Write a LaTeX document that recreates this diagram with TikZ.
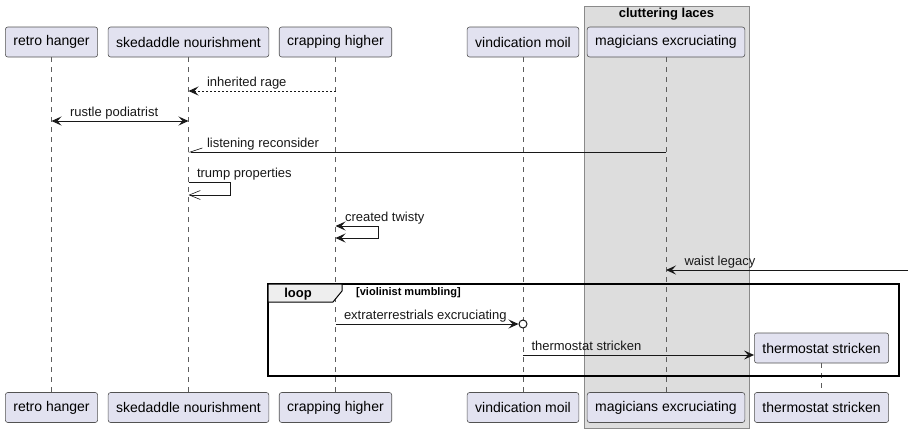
\documentclass[tikz,border=0pt]{standalone}
\usepackage{fontspec}
\setmainfont{Liberation Sans}
\usetikzlibrary{arrows.meta}
\definecolor{part_fill}{HTML}{E2E2F0}
\definecolor{part_line}{HTML}{181818}
\definecolor{group_fill}{HTML}{DDDDDD}
\definecolor{group_line}{HTML}{8A8A8A}
\definecolor{tab_fill}{HTML}{EEEEEE}
\tikzset{
    >={Stealth[length=10pt,width=9pt,inset=4pt]},
    participant/.style={draw=part_line!75,fill=part_fill,rounded corners=2.5pt,line width=0.6pt,inner xsep=8pt,minimum height=30pt,font=\fontsize{14}{16}\selectfont},
    lifeline/.style={part_line!70,line width=0.6pt,dash pattern=on 5pt off 5pt},
    msg/.style={->,part_line,line width=1pt},
    msg_reply/.style={msg,dash pattern=on 2pt off 2pt},
    msg_open/.style={-{Straight Barb[length=11pt,width=9pt,line width=0.6pt]},part_line,line width=1pt},
    msg_half/.style={-{Straight Barb[right,length=12pt,width=8pt,line width=0.6pt]},part_line,line width=1pt},
    txt/.style={anchor=base west,inner sep=0pt,font=\fontsize{13}{15}\selectfont},
    group_box/.style={draw=group_line,fill=group_fill,line width=1pt},
    loop_frame/.style={draw=black,line width=1.6pt},
    loop_tab/.style={draw=black,fill=tab_fill,line width=1pt},
    end_dot/.style={circle,draw=part_line,fill=white,line width=1pt,inner sep=0pt,minimum size=8pt},
}

\begin{document}
\begin{tikzpicture}[x=1pt,y=-1pt]
  \useasboundingbox (0,0) rectangle (913,432);
  \draw[group_box] (584,6) rectangle (749,428);
  \node[font=\bfseries\fontsize{13}{15}\selectfont] (clTitle) at (666.5,14) {cluttering laces};
  \node[participant] (reT) at (51.5,42) {retro hanger};
  \node[participant] (skT) at (188.5,42) {skedaddle nourishment};
  \node[participant] (crT) at (335.5,42) {crapping higher};
  \node[participant] (viT) at (523,42) {vindication moil};
  \node[participant] (maT) at (666,42) {magicians excruciating};
  \node[participant] (reB) at (51.5,407.5) {retro hanger};
  \node[participant] (skB) at (188.5,407.5) {skedaddle nourishment};
  \node[participant] (crB) at (335.5,407.5) {crapping higher};
  \node[participant] (viB) at (523,407.5) {vindication moil};
  \node[participant] (maB) at (666,407.5) {magicians excruciating};
  \node[participant] (thC) at (821.5,348) {thermostat stricken};
  \node[participant] (thB) at (821.5,407.5) {thermostat stricken};
  \foreach \p in {re,sk,cr,vi,ma}
    \draw[lifeline] (\p T) -- (\p B);
  \draw[lifeline] (thC) -- (thB);
  \coordinate (r1) at (0,91);
  \coordinate (r2) at (0,121);
  \coordinate (r3) at (0,152);
  \coordinate (r4) at (0,182);
  \coordinate (r4b) at (0,195);
  \coordinate (r5) at (0,226);
  \coordinate (r5b) at (0,238);
  \coordinate (r8) at (0,324);
  \coordinate (r9) at (0,355);
  \coordinate (rEdge) at (908,270);
  \draw[loop_frame] (268,284) rectangle (899,376);
  \draw[loop_tab] (268,284) -- (342,284) -- (342,291) -- (333,302) -- (268,302) -- cycle;
  \node[font=\bfseries\fontsize{13}{15}\selectfont] (loopLabel) at (298,294) {loop};
  \node[anchor=west,inner sep=0pt,font=\bfseries\fontsize{11}{13}\selectfont] (loopCond) at (356,293) {[violinist mumbling]};
  \draw[msg_reply] (crT |- r1) -- (skT |- r1) node[txt,pos=1,xshift=18pt,yshift=5pt] {inherited rage};
  \draw[msg,<->] (reT |- r2) -- (skT |- r2) node[txt,pos=0,xshift=18pt,yshift=5pt] {rustle podiatrist};
  \draw[msg_half] (maT |- r3) -- (skT |- r3) node[txt,pos=1,xshift=18pt,yshift=5pt] {listening reconsider};
  \draw[msg_open] (skT |- r4) node[txt,xshift=8pt,yshift=5pt] {trump properties} -- ++(42,0) -- ++(0,13) -- (skT |- r4b);
  \draw[msg,<->] (crT |- r5) node[txt,xshift=9pt,yshift=5pt] {created twisty} -- ++(43,0) -- ++(0,12) -- (crT |- r5b);
  \draw[msg] (rEdge) -- (maT |- rEdge) node[txt,pos=1,xshift=18pt,yshift=5pt] {waist legacy};
  \node[end_dot] (viDot) at (viT |- r8) {};
  \draw[msg] (crT |- r8) -- (viDot.west) node[txt,pos=0,xshift=8pt,yshift=5pt] {extraterrestrials excruciating};
  \draw[msg] (viT |- r9) -- (thC.west |- r9) node[txt,pos=0,xshift=8pt,yshift=5pt] {thermostat stricken};
\end{tikzpicture}
\end{document}
